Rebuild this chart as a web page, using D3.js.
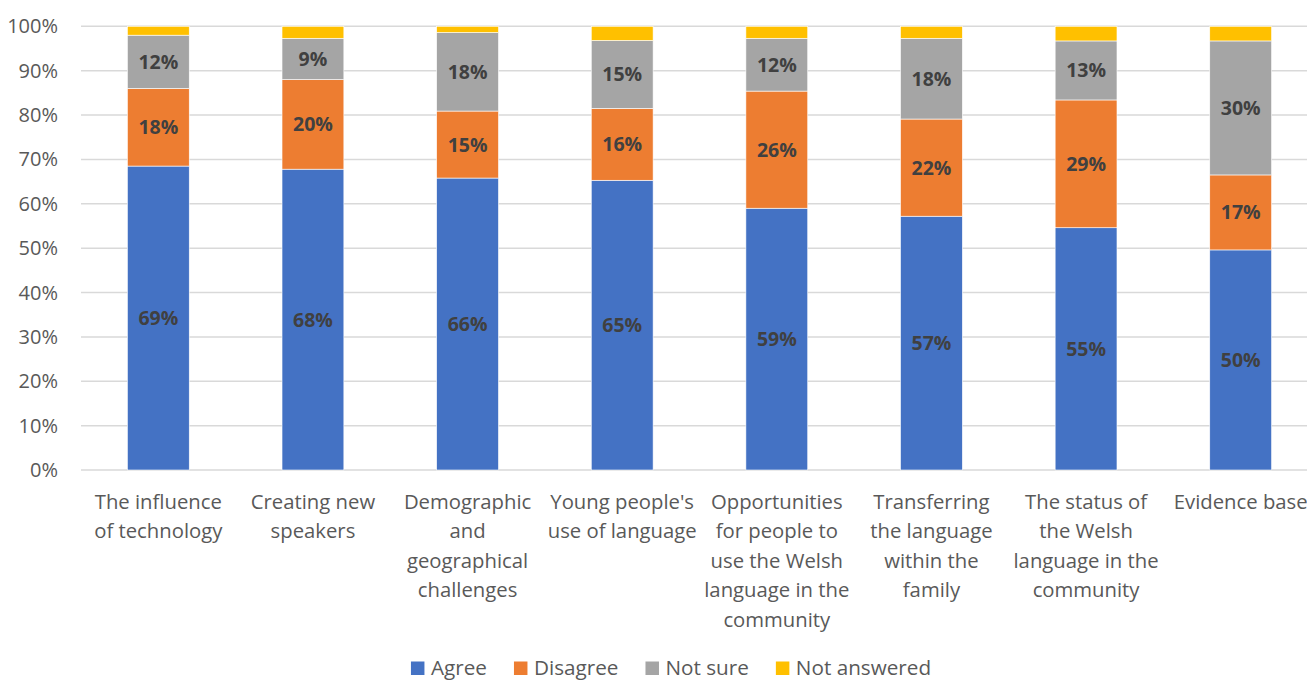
<!DOCTYPE html>
<html><head><meta charset="utf-8">
<script src="https://cdn.jsdelivr.net/npm/d3@7"></script>
<style>body{margin:0;background:#fff;overflow:hidden}svg{display:block}text{font-family:"Open Sans",sans-serif}</style>
</head><body>
<svg id="c" width="1307" height="681"></svg>
<script>
const categories = [
  ["The influence","of technology"],
  ["Creating new","speakers"],
  ["Demographic","and","geographical","challenges"],
  ["Young people's","use of language"],
  ["Opportunities","for people to","use the Welsh","language in the","community"],
  ["Transferring","the language","within the","family"],
  ["The status of","the Welsh","language in the","community"],
  ["Evidence base"]
];
const seriesNames = ["Agree","Disagree","Not sure","Not answered"];
const colors = ["#4472C4","#ED7D31","#A5A5A5","#FFC000"];
const agree = [68.5, 67.8, 65.8, 65.3, 59.0, 57.2, 54.6, 49.6];
const disagree = [17.5, 20.2, 15.1, 16.2, 26.4, 21.9, 28.8, 16.9];
const notSure = [12.0, 9.3, 17.7, 15.3, 11.9, 18.2, 13.3, 30.2];
const notAnswered = [2.0, 2.7, 1.4, 3.2, 2.7, 2.7, 3.3, 3.3];
const labels = [
  ["69%","68%","66%","65%","59%","57%","55%","50%"],
  ["18%","20%","15%","16%","26%","22%","29%","17%"],
  ["12%","9%","18%","15%","12%","18%","13%","30%"],
  null
];
const yTicks = [0,10,20,30,40,50,60,70,80,90,100];

const svg = d3.select("#c");
const x0 = 81, x1 = 1318, yTop = 26.3, yBot = 470;
const x = d3.scaleBand().domain(d3.range(categories.length)).range([x0, x1]).paddingInner(0.6).paddingOuter(0.3);
const y = d3.scaleLinear().domain([0,100]).range([yBot, yTop]);

// grid
svg.append("g").selectAll("line").data(yTicks).join("line")
  .attr("x1", x0).attr("x2", x1).attr("y1", d=>y(d)).attr("y2", d=>y(d))
  .attr("stroke", "#d9d9d9").attr("stroke-width", 1.5);
// y labels
svg.append("g").selectAll("text").data(yTicks).join("text")
  .attr("x", 58).attr("y", d=>y(d)).attr("dy","0.35em").attr("text-anchor","end")
  .attr("font-size", 20).attr("fill","#595959").text(d=>d+"%");

const data = categories.map((c,i)=>({i, v:[agree[i],disagree[i],notSure[i],notAnswered[i]]}));
const stack = d3.stack().keys([0,1,2,3]).value((d,k)=>d.v[k]);
const layers = stack(data);

const g = svg.append("g");
layers.forEach((layer, s) => {
  g.append("g").selectAll("rect").data(layer).join("rect")
    .attr("x", d=>x(d.data.i)).attr("width", x.bandwidth())
    .attr("y", d=>y(d[1])).attr("height", d=>y(d[0])-y(d[1]))
    .attr("fill", colors[s]).attr("stroke","#fff").attr("stroke-width",0.6);
  if (labels[s]) {
    g.append("g").selectAll("text").data(layer).join("text")
      .attr("x", d=>x(d.data.i)+x.bandwidth()/2).attr("y", d=>y((d[0]+d[1])/2)).attr("dy","0.36em")
      .attr("text-anchor","middle").attr("font-size",19.5).attr("font-weight","bold").attr("fill","#404040")
      .text(d=>labels[s][d.data.i]);
  }
});

// x labels
const xl = svg.append("g");
categories.forEach((lines,i)=>{
  const t = xl.append("text").attr("text-anchor","middle").attr("font-size",20.3).attr("fill","#595959");
  lines.forEach((ln,j)=>{
    t.append("tspan").attr("x", x(i)+x.bandwidth()/2).attr("y", 509 + j*29.4).text(ln);
  });
});

// legend (centered)
const lg = svg.append("g");
const items = seriesNames.map((n,i)=>{
  const it = lg.append("g");
  it.append("rect").attr("x",0).attr("y",-13).attr("width",13.5).attr("height",13.5).attr("fill",colors[i]);
  const t = it.append("text").attr("x",20).attr("y",0).attr("font-size",20.7).attr("fill","#595959").text(n);
  return {it, w: 20 + t.node().getComputedTextLength()};
});
const gap = 27;
const total = d3.sum(items, d=>d.w) + gap*(items.length-1);
let cx = 671 - total/2;
items.forEach(d=>{ d.it.attr("transform",`translate(${cx},${674.5})`); cx += d.w + gap; });
</script>
</body></html>
